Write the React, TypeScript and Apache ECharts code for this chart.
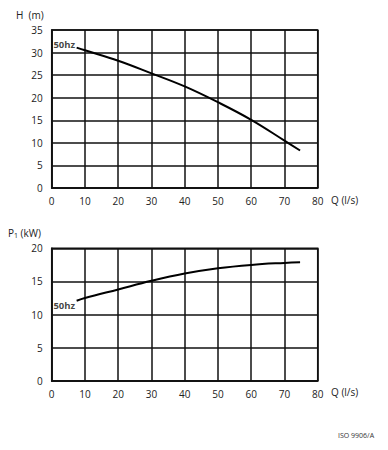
import React, { useEffect, useRef } from "react";
import * as echarts from "echarts";

const flowQ = [7.5, 10, 20, 30, 40, 50, 60, 70, 74.7];
const headH = [31.1, 30.5, 28.2, 25.4, 22.5, 19.0, 15.1, 10.5, 8.3];
const powerP = [12.1, 12.5, 13.8, 15.1, 16.2, 17.0, 17.5, 17.8, 17.9];
const curveLabel = "50hz";
const xTicks = { min: 0, max: 80, interval: 10 };
const headTicks = { min: 0, max: 35, interval: 5 };
const powerTicks = { min: 0, max: 20, interval: 5 };

const FONT = "Open Sans";
const INK = "#111";

export default function App() {
  const ref = useRef<HTMLDivElement>(null);
  useEffect(() => {
    document.body.style.margin = "0";
    const chart = echarts.init(ref.current!, null, { renderer: "svg" });
    const axisText = { color: "#222", fontFamily: FONT, fontSize: 10 };
    const mkX = (gridIndex: number) => ({
      type: "value",
      gridIndex,
      ...xTicks,
      axisLine: { show: true, lineStyle: { color: INK, width: 1.5 } },
      axisTick: { show: false },
      splitLine: { show: true, lineStyle: { color: INK, width: 1.5 } },
      axisLabel: { ...axisText, margin: 8 },
    });
    const mkY = (gridIndex: number, t: any) => ({
      type: "value",
      gridIndex,
      ...t,
      axisLine: { show: true, lineStyle: { color: INK, width: 1.5 } },
      axisTick: { show: false },
      splitLine: { show: true, lineStyle: { color: INK, width: 1.5 } },
      axisLabel: { ...axisText, margin: 9 },
    });
    const mkLine = (idx: number, ys: number[]) => ({
      type: "line",
      xAxisIndex: idx,
      yAxisIndex: idx,
      data: flowQ.map((q, i) => [q, ys[i]]),
      smooth: 0.4,
      showSymbol: false,
      symbol: "none",
      lineStyle: { color: "#000", width: 2 },
    });
    const mkLabel = (idx: number, ys: number[], offset: number[]) => ({
      type: "scatter",
      xAxisIndex: idx,
      yAxisIndex: idx,
      data: [[flowQ[0], ys[0]]],
      symbolSize: 1,
      itemStyle: { color: "rgba(0,0,0,0)" },
      label: {
        show: true,
        formatter: curveLabel,
        position: "left",
        distance: 0,
        offset,
        fontFamily: FONT,
        fontWeight: "bold",
        fontSize: 9.5,
        color: "#111",
      },
      z: 5,
    });
    chart.setOption({
      animation: false,
      backgroundColor: "#fff",
      grid: [
        { left: 51.7, top: 30, width: 266, height: 158, show: true, borderColor: INK, borderWidth: 1.5 },
        { left: 51.7, top: 248.3, width: 266, height: 132.7, show: true, borderColor: INK, borderWidth: 1.5 },
      ],
      xAxis: [mkX(0), mkX(1)],
      yAxis: [mkY(0, headTicks), mkY(1, powerTicks)],
      series: [
        mkLine(0, headH),
        mkLine(1, powerP),
        mkLabel(0, headH, [-1, -3]),
        mkLabel(1, powerP, [-1, 5]),
      ],
      graphic: [
        { type: "text", left: 16, top: 10, style: { text: "H  (m)", fontFamily: FONT, fontSize: 10, fill: "#222" } },
        { type: "text", left: 331, top: 195, style: { text: "Q (l/s)", fontFamily: FONT, fontSize: 10, fill: "#222" } },
        {
          type: "text",
          left: 8,
          top: 228,
          style: {
            text: "P{s|1} (kW)",
            fontFamily: FONT,
            fontSize: 10,
            fill: "#222",
            rich: { s: { fontSize: 7, fontFamily: FONT, fill: "#222", verticalAlign: "bottom", padding: [4, 0, 0, 0] } },
          },
        },
        { type: "text", left: 331, top: 387, style: { text: "Q (l/s)", fontFamily: FONT, fontSize: 10, fill: "#222" } },
        { type: "text", left: 338, top: 432, style: { text: "ISO 9906/A", fontFamily: FONT, fontSize: 7, fill: "#333" } },
      ],
    });
    return () => chart.dispose();
  }, []);
  return <div ref={ref} style={{ width: 388, height: 450 }} />;
}
